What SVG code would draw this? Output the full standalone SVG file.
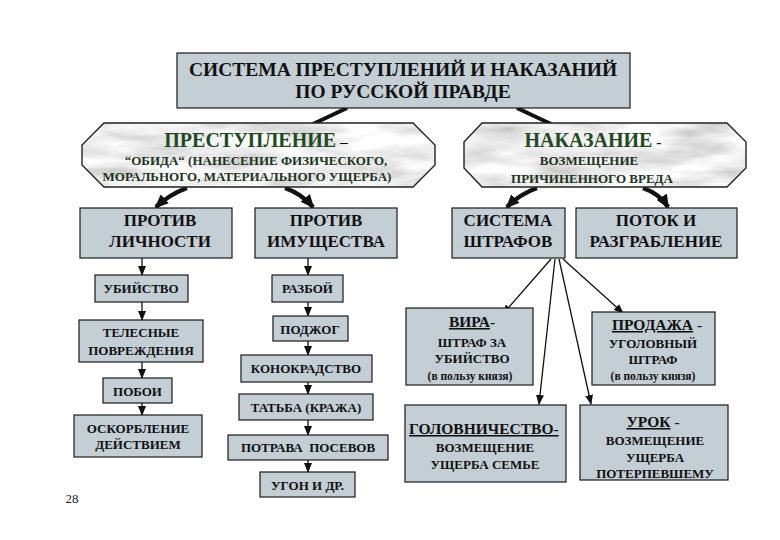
<svg xmlns="http://www.w3.org/2000/svg" width="780" height="540" viewBox="0 0 780 540">
<style>
  text { font-family: "Liberation Serif", "DejaVu Serif", serif; font-weight: bold; fill: #111; text-anchor: middle; }
  .box { fill: #c4cfd5; stroke: #1a1a1a; stroke-width: 1.2; }
  .oct { stroke: #222; stroke-width: 1.4; fill: none; }
  .t17 { font-size: 17px; }
  .t19 { font-size: 19.5px; }
  .t13 { font-size: 13px; }
  .t15 { font-size: 15.5px; }
  .t11 { font-size: 11.5px; }
  .grn { fill: #1c331c; }
  .hd { font-size: 20px; fill: #1f4a1f; }
  .thin { stroke: #111; stroke-width: 1.3; fill: none; marker-end: url(#ah); }
  .thick { stroke: #111; stroke-width: 4.5; fill: none; marker-end: url(#ahT); }
  .bar { stroke: #111; stroke-width: 4; fill: none; }
  .pre { white-space: pre; }
</style>
<defs>
  <marker id="ah" markerWidth="10" markerHeight="8" refX="9" refY="4" orient="auto" markerUnits="userSpaceOnUse">
    <path d="M0,0 L10,4 L0,8 Z" fill="#111"/>
  </marker>
  <marker id="ahT" markerWidth="14" markerHeight="12" refX="12" refY="6" orient="auto" markerUnits="userSpaceOnUse">
    <path d="M0,0 L14,6 L0,12 Z" fill="#111"/>
  </marker>
  <filter id="marble" x="0" y="0" width="1" height="1">
    <feTurbulence type="fractalNoise" baseFrequency="0.015 0.06" numOctaves="4" seed="7" result="n"/>
    <feColorMatrix in="n" type="matrix" values="0.8 0 0 0 0.45  0.8 0 0 0 0.45  0.8 0 0 0 0.45  0 0 0 0 1" result="g"/>
    <feComposite in="g" in2="SourceGraphic" operator="in"/>
  </filter>
</defs>
<rect width="780" height="540" fill="#ffffff"/>

<g id="connectors">
  <line class="bar" x1="347" y1="108" x2="313" y2="124"/>
  <line class="bar" x1="517" y1="108" x2="551" y2="124"/>
  <path class="thick" d="M187,188 Q170,194 156,207"/>
  <path class="thick" d="M285,188 Q302,194 313,207"/>
  <path class="thick" d="M537,188 Q520,194 507,207"/>
  <path class="thick" d="M643,188 Q660,194 668,207"/>
  <line class="thin" x1="142" y1="258" x2="142" y2="275"/>
  <line class="thin" x1="142" y1="302" x2="142" y2="320"/>
  <line class="thin" x1="142" y1="362" x2="142" y2="378"/>
  <line class="thin" x1="142" y1="403" x2="142" y2="415"/>
  <line class="thin" x1="308" y1="258" x2="308" y2="275"/>
  <line class="thin" x1="308" y1="302" x2="308" y2="316"/>
  <line class="thin" x1="308" y1="341" x2="308" y2="355"/>
  <line class="thin" x1="308" y1="382" x2="308" y2="394"/>
  <line class="thin" x1="308" y1="420" x2="308" y2="435"/>
  <line class="thin" x1="308" y1="460" x2="308" y2="472"/>
  <line class="thin" x1="551" y1="259" x2="503" y2="314"/>
  <line class="thin" x1="555" y1="259" x2="539" y2="404"/>
  <line class="thin" x1="559" y1="259" x2="591" y2="404"/>
  <line class="thin" x1="563" y1="259" x2="623" y2="313"/>
</g>

<g id="title">
  <rect class="box" x="177" y="53" width="453" height="55"/>
  <text class="t19" x="403" y="76">СИСТЕМА ПРЕСТУПЛЕНИЙ И НАКАЗАНИЙ</text>
  <text class="t19" x="403" y="98">ПО РУССКОЙ ПРАВДЕ</text>
</g>

<g id="crime">
  <polygon points="104,123 413,123 435,145 435,165 413,187 104,187 82,165 82,145" fill="#e0e0e0" filter="url(#marble)"/>
  <polygon class="oct" points="104,123 413,123 435,145 435,165 413,187 104,187 82,165 82,145"/>
  <text x="256" y="147"><tspan class="hd">ПРЕСТУПЛЕНИЕ</tspan><tspan class="t15"> –</tspan></text>
  <text class="t13 grn" x="256" y="165">“ОБИДА“ (НАНЕСЕНИЕ ФИЗИЧЕСКОГО,</text>
  <text class="t13 grn" x="247" y="181">МОРАЛЬНОГО, МАТЕРИАЛЬНОГО УЩЕРБА)</text>
</g>

<g id="punishment">
  <polygon points="482,123 727,123 746,142 746,168 727,187 482,187 464,168 464,142" fill="#e0e0e0" filter="url(#marble)"/>
  <polygon class="oct" points="482,123 727,123 746,142 746,168 727,187 482,187 464,168 464,142"/>
  <text x="593" y="147"><tspan class="hd">НАКАЗАНИЕ</tspan><tspan class="t15"> -</tspan></text>
  <text class="t13 grn" x="589" y="165">ВОЗМЕЩЕНИЕ</text>
  <text class="t13 grn" x="592" y="183">ПРИЧИНЕННОГО ВРЕДА</text>
</g>

<g id="person">
  <rect class="box" x="80" y="208" width="152" height="50"/>
  <text class="t17" x="160" y="226">ПРОТИВ</text>
  <text class="t17" x="160" y="247">ЛИЧНОСТИ</text>
</g>
<g id="property">
  <rect class="box" x="255" y="208" width="142" height="50"/>
  <text class="t17" x="326" y="226">ПРОТИВ</text>
  <text class="t17" x="326" y="247">ИМУЩЕСТВА</text>
</g>
<g id="fines">
  <rect class="box" x="452" y="208" width="113" height="50"/>
  <text class="t17" x="508" y="226">СИСТЕМА</text>
  <text class="t17" x="508" y="247">ШТРАФОВ</text>
</g>
<g id="plunder">
  <rect class="box" x="576" y="208" width="161" height="50"/>
  <text class="t17" x="656" y="226">ПОТОК И</text>
  <text class="t17" x="656" y="247">РАЗГРАБЛЕНИЕ</text>
</g>

<g id="murder">
  <rect class="box" x="95" y="275" width="93" height="27"/>
  <text class="t13" x="141" y="293">УБИЙСТВО</text>
</g>
<g id="injury">
  <rect class="box" x="79" y="320" width="124" height="42"/>
  <text class="t13" x="141" y="337">ТЕЛЕСНЫЕ</text>
  <text class="t13" x="141" y="355">ПОВРЕЖДЕНИЯ</text>
</g>
<g id="beating">
  <rect class="box" x="103" y="378" width="69" height="25"/>
  <text class="t13" x="137.5" y="396">ПОБОИ</text>
</g>
<g id="insult">
  <rect class="box" x="74" y="415" width="128" height="42"/>
  <text class="t13" x="138" y="433">ОСКОРБЛЕНИЕ</text>
  <text class="t13" x="138" y="449">ДЕЙСТВИЕМ</text>
</g>

<g id="robbery">
  <rect class="box" x="272" y="275" width="71" height="27"/>
  <text class="t13" x="307.5" y="293">РАЗБОЙ</text>
</g>
<g id="arson">
  <rect class="box" x="273" y="316" width="75" height="25"/>
  <text class="t13" x="310" y="334">ПОДЖОГ</text>
</g>
<g id="horse">
  <rect class="box" x="241" y="355" width="131" height="27"/>
  <text class="t13" x="306" y="373">КОНОКРАДСТВО</text>
</g>
<g id="theft">
  <rect class="box" x="239" y="394" width="134" height="26"/>
  <text class="t13" x="306" y="412">ТАТЬБА (КРАЖА)</text>
</g>
<g id="crops">
  <rect class="box" x="228" y="435" width="160" height="25"/>
  <text class="t13 pre" x="308" y="452">ПОТРАВА  ПОСЕВОВ</text>
</g>
<g id="other">
  <rect class="box" x="260" y="472" width="95" height="25"/>
  <text class="t13" x="307.5" y="490">УГОН И ДР.</text>
</g>

<g id="vira">
  <rect class="box" x="406" y="308" width="127" height="77"/>
  <text x="472" y="327"><tspan class="t15" text-decoration="underline">ВИРА</tspan><tspan class="t15">-</tspan></text>
  <text class="t13" x="472" y="347">ШТРАФ ЗА</text>
  <text class="t13" x="472" y="363">УБИЙСТВО</text>
  <text class="t11" x="470" y="380">(в пользу князя)</text>
</g>
<g id="prodazha">
  <rect class="box" x="592" y="312" width="123" height="73"/>
  <text x="657" y="330"><tspan class="t15" text-decoration="underline">ПРОДАЖА</tspan><tspan class="t15"> -</tspan></text>
  <text class="t13" x="653" y="348">УГОЛОВНЫЙ</text>
  <text class="t13" x="653" y="364">ШТРАФ</text>
  <text class="t11" x="653" y="380">(в пользу князя)</text>
</g>
<g id="golovnichestvo">
  <rect class="box" x="405" y="405" width="161" height="77"/>
  <text class="t15" x="409" y="434" style="text-anchor:start"><tspan text-decoration="underline">ГОЛОВНИЧЕСТВО-</tspan></text>
  <text class="t13" x="485" y="452">ВОЗМЕЩЕНИЕ</text>
  <text class="t13" x="485" y="469">УЩЕРБА СЕМЬЕ</text>
</g>
<g id="urok">
  <rect class="box" x="580" y="405" width="148" height="75"/>
  <text x="653" y="427"><tspan class="t15" text-decoration="underline">УРОК</tspan><tspan class="t15"> -</tspan></text>
  <text class="t13" x="655" y="445">ВОЗМЕЩЕНИЕ</text>
  <text class="t13" x="655" y="462">УЩЕРБА</text>
  <text class="t13" x="655" y="478">ПОТЕРПЕВШЕМУ</text>
</g>

<text x="72" y="503" style="font-weight:normal; font-size:13px; fill:#222">28</text>
</svg>
